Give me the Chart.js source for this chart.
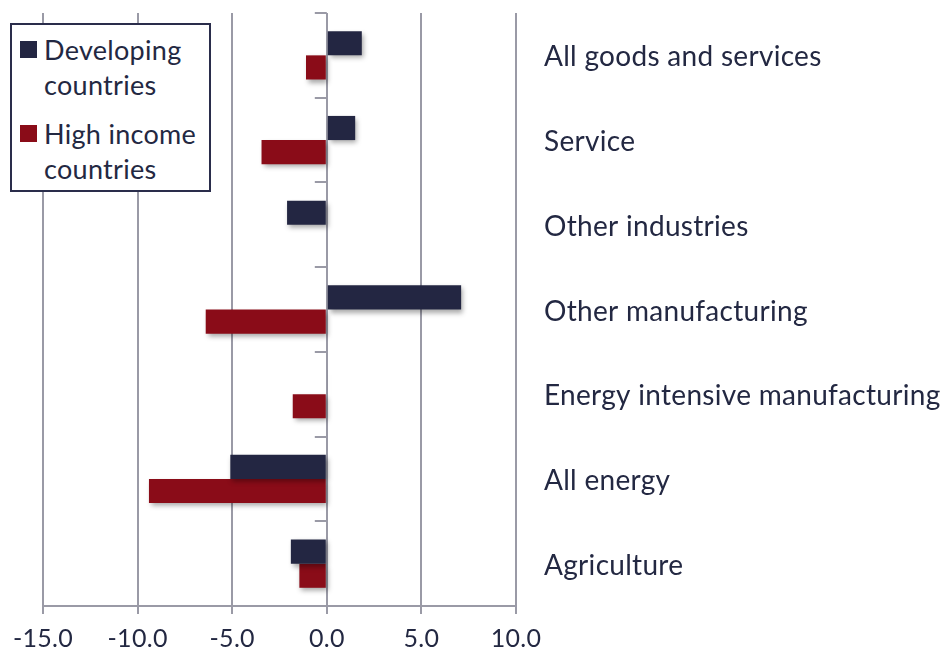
<!DOCTYPE html>
<html>
<head>
<meta charset="utf-8">
<script src="https://cdn.jsdelivr.net/npm/chart.js@4.4.1/dist/chart.umd.min.js"></script>
<style>
  html, body { margin: 0; padding: 0; background: #fff; }
  #wrap { position: relative; width: 949px; height: 657px; }
  #legend {
    position: absolute; left: 10px; top: 23px; width: 197px; height: 165px;
    border: 2px solid #2a2d4b; background: #fff;
    font-family: Lato, "Open Sans", sans-serif; font-size: 27px; color: #232842;
  }
  .item { position: absolute; left: 8px; line-height: 35px; }
  .item .sw { position: absolute; left: 0; top: 9px; width: 17px; height: 17px; }
  .item .txt { margin-left: 24px; letter-spacing: 0.3px; }
</style>
</head>
<body>
<div id="wrap">
  <canvas id="chart" width="949" height="657"></canvas>
  <div id="legend">
    <div class="item" style="top:7px"><span class="sw" style="background:#232642"></span><div class="txt">Developing<br>countries</div></div>
    <div class="item" style="top:91px"><span class="sw" style="background:#8a0c18"></span><div class="txt">High income<br>countries</div></div>
  </div>
</div>
<script>
document.addEventListener("DOMContentLoaded", () => {
  const categories = ["All goods and services", "Service", "Other industries", "Other manufacturing",
                      "Energy intensive manufacturing", "All energy", "Agriculture"];
  const developing = [1.85, 1.5, -2.1, 7.1, 0.05, -5.1, -1.9];
  const highIncome = [-1.1, -3.45, 0, -6.4, -1.8, -9.4, -1.45];
  const xTicks = [-15, -10, -5, 0, 5, 10];

  const navy = "#232642", red = "#8a0c18", grey = "#9a9aa6", textCol = "#232842";
  const fam = "Lato, 'Open Sans', sans-serif";

  // shadow behind the bars + small tick marks on the zero line
  const extras = {
    id: "extras",
    beforeDatasetsDraw(chart){
      const c = chart.ctx;
      c.save();
      c.shadowColor = "rgba(0,0,0,0.35)";
      c.shadowBlur = 5;
      c.shadowOffsetX = 2;
      c.shadowOffsetY = 3;
    },
    afterDatasetsDraw(chart){
      chart.ctx.restore();
      const c = chart.ctx, x = chart.scales.x, y = chart.scales.y;
      const x0 = x.getPixelForValue(0);
      c.save();
      c.strokeStyle = grey; c.lineWidth = 2;
      for(let i = 0; i <= categories.length; i++){
        const py = Math.round(y.getPixelForValue(i - 0.5));
        c.beginPath(); c.moveTo(x0 - 12, py); c.lineTo(x0, py); c.stroke();
      }
      c.restore();
    },
    beforeDraw(chart){ chart.ctx.letterSpacing = "0.3px"; }
  };

  new Chart(document.getElementById("chart"), {
    type: "bar",
    data: {
      labels: categories,
      datasets: [
        { label: "Developing countries", data: developing, backgroundColor: navy },
        { label: "High income countries", data: highIncome, backgroundColor: red }
      ]
    },
    options: {
      indexAxis: "y",
      responsive: false,
      animation: false,
      devicePixelRatio: 1,
      datasets: { bar: { categoryPercentage: 0.57, barPercentage: 1 } },
      layout: { padding: { top: 13, left: 43, right: 0, bottom: 0 } },
      plugins: { legend: { display: false }, tooltip: { enabled: false } },
      scales: {
        x: {
          min: -15, max: 10,
          afterBuildTicks: s => { s.ticks = xTicks.map(v => ({ value: v })); },
          afterFit: s => { s.height = 51; s.paddingLeft = 0; s.paddingRight = 0; },
          grid: { color: grey, lineWidth: 2, tickLength: 8 },
          border: { color: grey, width: 2 },
          ticks: { color: textCol, font: { family: fam, size: 25 }, padding: 10, maxRotation: 0, callback: v => Number(v).toFixed(1) }
        },
        y: {
          position: "right",
          afterFit: s => { s.width = 433; s.paddingTop = 0; s.paddingBottom = 0; },
          grid: { display: false },
          border: { display: false },
          ticks: { color: textCol, font: { family: fam, size: 28 }, padding: 20, labelOffset: 2, crossAlign: "near" }
        }
      }
    },
    plugins: [extras]
  });
});
</script>
</body>
</html>
